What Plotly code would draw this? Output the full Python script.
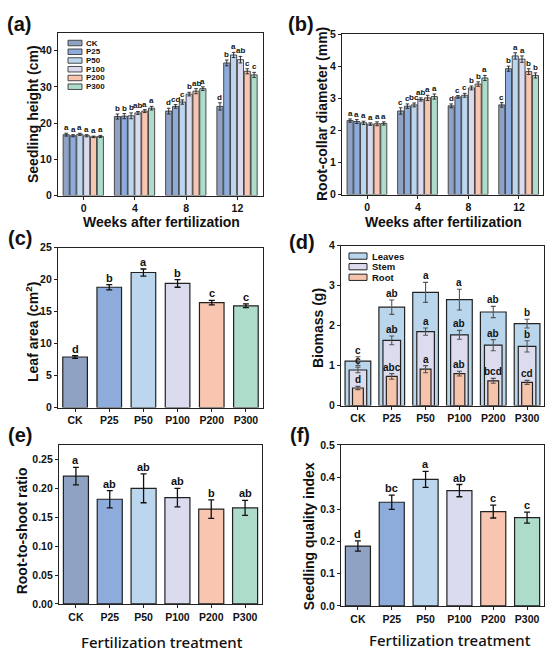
import plotly.graph_objects as go

FONT = "Liberation Sans, Arial, sans-serif"
W, H = 550, 662

# ---------------- data ----------------
treatments = ["CK", "P25", "P50", "P100", "P200", "P300"]
weeks = [0, 4, 8, 12]
colors = ["#8FA2C4", "#8DACDB", "#BCD6EE", "#DADBEF", "#F7C5B0", "#AEDCCB"]

# (a) seedling height (cm) by treatment over weeks
height_CK = [16.8, 21.8, 23.3, 24.6]
height_P25 = [16.5, 21.9, 24.6, 36.6]
height_P50 = [16.9, 22.0, 25.8, 38.8]
height_P100 = [16.5, 22.8, 28.0, 37.5]
height_P200 = [16.2, 23.3, 28.8, 34.3]
height_P300 = [16.3, 24.1, 29.5, 33.3]
height_err_CK = [0.4, 0.7, 0.8, 1.0]
height_err_P25 = [0.3, 0.7, 0.5, 0.8]
height_err_P50 = [0.3, 0.8, 0.6, 0.7]
height_err_P100 = [0.3, 0.4, 0.5, 0.9]
height_err_P200 = [0.2, 0.4, 0.7, 0.7]
height_err_P300 = [0.3, 0.5, 0.5, 0.7]
height_let_CK = ["a", "b", "d", "d"]
height_let_P25 = ["a", "b", "cd", "b"]
height_let_P50 = ["a", "b", "c", "a"]
height_let_P100 = ["a", "ab", "b", "ab"]
height_let_P200 = ["a", "a", "ab", "c"]
height_let_P300 = ["a", "a", "a", "c"]

# (b) root-collar diameter (mm)
diam_CK = [2.31, 2.61, 2.77, 2.80]
diam_P25 = [2.28, 2.76, 3.05, 3.93]
diam_P50 = [2.24, 2.80, 3.10, 4.33]
diam_P100 = [2.20, 2.97, 3.33, 4.23]
diam_P200 = [2.21, 3.02, 3.45, 3.84]
diam_P300 = [2.22, 3.06, 3.64, 3.72]
diam_err_CK = [0.05, 0.10, 0.06, 0.07]
diam_err_P25 = [0.06, 0.07, 0.04, 0.08]
diam_err_P50 = [0.05, 0.06, 0.06, 0.10]
diam_err_P100 = [0.04, 0.05, 0.06, 0.10]
diam_err_P200 = [0.06, 0.08, 0.07, 0.09]
diam_err_P300 = [0.05, 0.08, 0.08, 0.08]
diam_let_CK = ["a", "c", "d", "c"]
diam_let_P25 = ["a", "c", "c", "b"]
diam_let_P50 = ["a", "bc", "c", "a"]
diam_let_P100 = ["a", "ab", "b", "a"]
diam_let_P200 = ["a", "a", "b", "b"]
diam_let_P300 = ["a", "a", "a", "b"]

# (c) leaf area (cm2)
leaf_area = [7.9, 18.8, 21.1, 19.4, 16.4, 15.9]
leaf_area_err = [0.2, 0.4, 0.55, 0.6, 0.35, 0.3]
leaf_area_let = ["d", "b", "a", "b", "c", "c"]

# (d) biomass (g) - cumulative heights
bio_leaves = [1.11, 2.46, 2.83, 2.65, 2.34, 2.05]
bio_leaves_err = [0.11, 0.18, 0.25, 0.26, 0.14, 0.11]
bio_leaves_let = ["c", "ab", "a", "a", "ab", "b"]
bio_stem = [0.89, 1.63, 1.85, 1.77, 1.51, 1.48]
bio_stem_err = [0.07, 0.11, 0.09, 0.11, 0.14, 0.14]
bio_stem_let = ["c", "ab", "a", "ab", "ab", "b"]
bio_root = [0.44, 0.73, 0.91, 0.80, 0.62, 0.58]
bio_root_err = [0.04, 0.07, 0.09, 0.06, 0.06, 0.05]
bio_root_let = ["d", "abc", "a", "ab", "bcd", "cd"]
bio_names = ["Leaves", "Stem", "Root"]
bio_colors = ["#BAD6EC", "#DDDCEF", "#F6C3AB"]

# (e) root-to-shoot ratio
rs_ratio = [0.221, 0.181, 0.200, 0.184, 0.164, 0.166]
rs_ratio_err = [0.015, 0.015, 0.025, 0.016, 0.016, 0.013]
rs_ratio_let = ["a", "ab", "ab", "ab", "b", "ab"]

# (f) seedling quality index
sqi = [0.186, 0.322, 0.393, 0.358, 0.293, 0.274]
sqi_err = [0.016, 0.022, 0.025, 0.019, 0.020, 0.017]
sqi_let = ["d", "bc", "a", "ab", "c", "c"]

height_series = [height_CK, height_P25, height_P50, height_P100, height_P200, height_P300]
height_errs = [height_err_CK, height_err_P25, height_err_P50, height_err_P100, height_err_P200, height_err_P300]
height_lets = [height_let_CK, height_let_P25, height_let_P50, height_let_P100, height_let_P200, height_let_P300]
diam_series = [diam_CK, diam_P25, diam_P50, diam_P100, diam_P200, diam_P300]
diam_errs = [diam_err_CK, diam_err_P25, diam_err_P50, diam_err_P100, diam_err_P200, diam_err_P300]
diam_lets = [diam_let_CK, diam_let_P25, diam_let_P50, diam_let_P100, diam_let_P200, diam_let_P300]

# ---------------- helpers ----------------
def PX(p):
    return p / W

def PY(p):
    return 1 - p / H

domains = {
    1: ((58, 263), (27, 193)),
    2: ((342, 543), (29, 192)),
    3: ((58, 263), (246, 409)),
    4: ((341, 544), (244, 407)),
    5: ((59, 262), (447, 609)),
    6: ((341, 544), (447, 611)),
}

LINE = "#222222"
fig = go.Figure()
annotations = []
shapes = []


def letter(xref, yref, x, y, txt, size):
    annotations.append(dict(xref=xref, yref=yref, x=x, y=y, text=txt, showarrow=False,
                            yanchor="bottom", xanchor="center", yshift=-1,
                            font=dict(family=FONT, size=size, color="#111", weight="bold")))


# grouped bars (a) and (b)
G_START, G_STEP, G_W = -1.6, 0.533, 0.48
for k, (series, errs, lets) in enumerate([(height_series, height_errs, height_lets),
                                          (diam_series, diam_errs, diam_lets)]):
    ax = "" if k == 0 else "2"
    for i, name in enumerate(treatments):
        off = G_START + i * G_STEP
        fig.add_trace(go.Bar(
            x=weeks, y=series[i], name=name, offset=off, width=G_W,
            marker=dict(color=colors[i], line=dict(color="#3a3a3a", width=0.9)),
            error_y=dict(type="data", array=errs[i], color="#222", thickness=0.9, width=1.8),
            xaxis="x" + ax, yaxis="y" + ax, showlegend=False))
        for j, wk in enumerate(weeks):
            letter("x" + ax, "y" + ax, wk + off + G_W / 2, series[i][j] + errs[i][j], lets[i][j], 8)

# (c) leaf area
fig.add_trace(go.Bar(x=treatments, y=leaf_area, width=0.72,
                     marker=dict(color=colors, line=dict(color=LINE, width=1.2)),
                     error_y=dict(type="data", array=leaf_area_err, color="#111", thickness=1.3, width=3),
                     xaxis="x3", yaxis="y3", showlegend=False))
for t, v, e, l in zip(treatments, leaf_area, leaf_area_err, leaf_area_let):
    letter("x3", "y3", t, v + e, l, 11)

# (d) biomass overlay
bio_vals = [bio_leaves, bio_stem, bio_root]
bio_errs = [bio_leaves_err, bio_stem_err, bio_root_err]
bio_lets = [bio_leaves_let, bio_stem_let, bio_root_let]
bio_widths = [0.76, 0.52, 0.32]
for k in range(3):
    fig.add_trace(go.Bar(x=treatments, y=bio_vals[k], width=bio_widths[k], name=bio_names[k],
                         marker=dict(color=bio_colors[k], line=dict(color=LINE, width=1.2)),
                         error_y=dict(type="data", array=bio_errs[k], color="#555", thickness=1.1, width=2.5),
                         xaxis="x4", yaxis="y4", showlegend=False))
    for t, v, e, l in zip(treatments, bio_vals[k], bio_errs[k], bio_lets[k]):
        letter("x4", "y4", t, v + e, l, 10)

# (e) root-to-shoot ratio
fig.add_trace(go.Bar(x=treatments, y=rs_ratio, width=0.74,
                     marker=dict(color=colors, line=dict(color=LINE, width=1.2)),
                     error_y=dict(type="data", array=rs_ratio_err, color="#111", thickness=1.3, width=3),
                     xaxis="x5", yaxis="y5", showlegend=False))
for t, v, e, l in zip(treatments, rs_ratio, rs_ratio_err, rs_ratio_let):
    letter("x5", "y5", t, v + e, l, 11)

# (f) seedling quality index
fig.add_trace(go.Bar(x=treatments, y=sqi, width=0.74,
                     marker=dict(color=colors, line=dict(color=LINE, width=1.2)),
                     error_y=dict(type="data", array=sqi_err, color="#111", thickness=1.3, width=3),
                     xaxis="x6", yaxis="y6", showlegend=False))
for t, v, e, l in zip(treatments, sqi, sqi_err, sqi_let):
    letter("x6", "y6", t, v + e, l, 11)

# ---------------- axes ----------------
tickfont = dict(family=FONT, size=10.5, color="#111", weight="bold")


def axis_common():
    return dict(showline=True, linecolor=LINE, linewidth=1.3, mirror=True, showgrid=False,
                zeroline=False, ticks="outside", ticklen=3, tickwidth=1.1, tickcolor=LINE,
                tickfont=tickfont, fixedrange=True)


yranges = {1: ([0, 45], 10, None), 2: ([0, 5], 1, None), 3: ([0, 25], 5, None),
           4: ([0, 4], 1, None), 5: ([0, 0.275], 0.05, ".2f"), 6: ([0, 0.5], 0.1, ".1f")}

layout_axes = {}
for n, ((x0, x1), (y0, y1)) in domains.items():
    s = "" if n == 1 else str(n)
    xa = axis_common()
    xa.update(domain=[PX(x0), PX(x1)], anchor="y" + s)
    if n == 1:
        xa.update(range=[-2, 14], tickvals=weeks)
    elif n == 2:
        xa.update(range=[-2, 13.9], tickvals=weeks)
    else:
        xa.update(type="category", range=[-0.5, 5.5])
    ya = axis_common()
    r, dt, fmt = yranges[n]
    ya.update(domain=[PY(y1), PY(y0)], anchor="x" + s, range=r, dtick=dt, tick0=0)
    if fmt:
        ya.update(tickformat=fmt)
    layout_axes["xaxis" + s] = xa
    layout_axes["yaxis" + s] = ya


def text_ann(x, y, txt, size, angle=0, weight="bold", family=FONT, xanchor="center"):
    annotations.append(dict(xref="paper", yref="paper", x=PX(x), y=PY(y), text=txt,
                            showarrow=False, textangle=angle, xanchor=xanchor, yanchor="middle",
                            font=dict(family=family, size=size, color="#111", weight=weight)))


# panel labels
for lab, x, y in [("(a)", 19, 18), ("(b)", 301, 18), ("(c)", 20, 236),
                  ("(d)", 302, 240), ("(e)", 20, 437), ("(f)", 300, 437)]:
    text_ann(x, y, lab, 20)

# axis titles
text_ann(161, 220, "Weeks after fertilization", 14)
text_ann(443, 220, "Weeks after fertilization", 14)
text_ann(33, 110, "Seedling height (cm)", 14, angle=-90)
text_ann(322, 110, "Root-collar diameter (mm)", 14, angle=-90)
text_ann(32, 332, "Leaf area (cm<sup>2</sup>)", 14, angle=-90)
text_ann(318, 328, "Biomass (g)", 14, angle=-90)
text_ann(22, 535, "Root-to-shoot ratio", 14, angle=-90)
text_ann(309, 540, "Seedling quality index", 14, angle=-90)
text_ann(162, 648, "Fertilization treatment", 15, weight=500, family="Noto Sans, Open Sans, sans-serif")
text_ann(450, 646, "Fertilization treatment", 15, weight=500, family="Noto Sans, Open Sans, sans-serif")

# legend (a)
for i, name in enumerate(treatments):
    yc = 37.7 + i * 8.9
    shapes.append(dict(type="rect", xref="paper", yref="paper", x0=PX(68), x1=PX(82),
                       y0=PY(yc + 2.8), y1=PY(yc - 2.8), fillcolor=colors[i],
                       line=dict(color="#3a3a3a", width=0.9)))
    annotations.append(dict(xref="paper", yref="paper", x=PX(84), y=PY(yc), text=name,
                            showarrow=False, xanchor="left", yanchor="middle",
                            font=dict(family=FONT, size=8, color="#111", weight="bold")))

# legend (d)
for i, name in enumerate(bio_names):
    yc = 254.7 + i * 10.8
    shapes.append(dict(type="rect", xref="paper", yref="paper", x0=PX(349), x1=PX(367),
                       y0=PY(yc + 3.2), y1=PY(yc - 3.2), fillcolor=bio_colors[i],
                       line=dict(color=LINE, width=1)))
    annotations.append(dict(xref="paper", yref="paper", x=PX(370), y=PY(yc), text=name,
                            showarrow=False, xanchor="left", yanchor="middle",
                            font=dict(family=FONT, size=9.5, color="#111", weight="bold")))

fig.update_layout(width=W, height=H, autosize=False, margin=dict(l=0, r=0, t=0, b=0),
                  paper_bgcolor="white", plot_bgcolor="white", barmode="overlay",
                  showlegend=False, font=dict(family=FONT, color="#111"),
                  annotations=annotations, shapes=shapes, **layout_axes)

fig.write_html("out.html", config={"displayModeBar": False},
               post_script="document.body.style.margin='0';document.body.style.overflow='hidden';")
